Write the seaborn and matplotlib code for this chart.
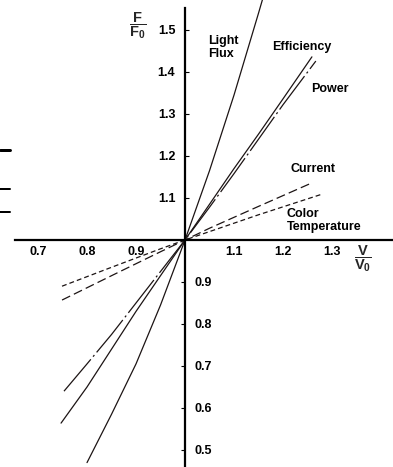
import numpy as np
import pandas as pd
import matplotlib
matplotlib.use('Agg')
import matplotlib.pyplot as plt
import seaborn as sns
from matplotlib.lines import Line2D

# relative voltage V/V0 vs relative quantity F/F0
flux_x = [0.80, 0.85, 0.90, 0.95, 1.00, 1.05, 1.10, 1.15, 1.165]
flux_y = [0.47, 0.585, 0.705, 0.845, 1.00, 1.165, 1.345, 1.54, 1.60]

eff_x = [0.747, 0.80, 0.85, 0.90, 0.95, 1.00, 1.05, 1.10, 1.15, 1.20, 1.259]
eff_y = [0.564, 0.65, 0.74, 0.83, 0.915, 1.00, 1.085, 1.17, 1.252, 1.336, 1.436]

pow_x = [0.753, 0.80, 0.85, 0.90, 0.95, 1.00, 1.05, 1.10, 1.15, 1.20, 1.267]
pow_y = [0.640, 0.705, 0.775, 0.85, 0.925, 1.00, 1.078, 1.158, 1.24, 1.322, 1.426]

cur_x = [0.749, 0.85, 0.95, 1.00, 1.05, 1.15, 1.259]
cur_y = [0.857, 0.915, 0.972, 1.00, 1.028, 1.08, 1.136]

ct_x = [0.749, 0.85, 0.95, 1.00, 1.05, 1.15, 1.282]
ct_y = [0.890, 0.935, 0.979, 1.00, 1.02, 1.06, 1.110]

x_ticks = [0.7, 0.8, 0.9, 1.1, 1.2, 1.3]
y_ticks = [0.5, 0.6, 0.7, 0.8, 0.9, 1.1, 1.2, 1.3, 1.4, 1.5]

sns.set_style('white')
plt.rcParams['font.family'] = ['Liberation Sans', 'DejaVu Sans']
plt.rcParams['font.weight'] = 'bold'
plt.rcParams['mathtext.fontset'] = 'custom'
plt.rcParams['mathtext.rm'] = 'Liberation Sans:bold'
plt.rcParams['mathtext.bf'] = 'Liberation Sans:bold'
plt.rcParams['mathtext.it'] = 'Liberation Sans:bold'
plt.rcParams['mathtext.default'] = 'bf'
plt.rcParams['lines.scale_dashes'] = False

ink = '#1c1414'
fig = plt.figure(figsize=(3.93, 4.67), dpi=100)
ax = fig.add_axes([0, 0, 1, 1])

series = [
    (flux_x, flux_y, '-'),
    (eff_x, eff_y, '-'),
    (pow_x, pow_y, (0, (30, 2.5, 1.5, 2.5))),
    (cur_x, cur_y, (0, (6.5, 3))),
    (ct_x, ct_y, (0, (3.5, 2.2))),
]
for xs, ys, ls in series:
    sns.lineplot(x=xs, y=ys, ax=ax, color=ink, linewidth=0.9,
                 linestyle=ls, clip_on=False)

ax.set_xlim(0.6224, 1.4245)
ax.set_ylim(0.4595, 1.5714)

ax.spines['top'].set_visible(False)
for s in ['left', 'right']:
    ax.spines[s].set_position(('data', 1.0))
ax.spines['right'].set_visible(False)
ax.spines['bottom'].set_position(('data', 1.0))
ax.spines['left'].set_bounds(0.4595, 1.552)
ax.spines['bottom'].set_bounds(0.653, 1.4245)
for s in ['left', 'bottom']:
    ax.spines[s].set_linewidth(1.6)
    ax.spines[s].set_color('black')

ax.set_xticks(x_ticks)
ax.set_xticklabels([f'{v:.1f}' for v in x_ticks])
ax.set_yticks(y_ticks)
ax.set_yticklabels([f'{v:.1f}' for v in y_ticks])
ax.tick_params(axis='x', direction='in', length=3, width=0.8, pad=4,
               labelsize=9, colors='black')
ax.tick_params(axis='y', direction='in', length=3, width=0.8, pad=7,
               labelsize=9, left=True, right=True,
               labelleft=True, labelright=True, colors='black')
for t, v in zip(ax.yaxis.get_major_ticks(), y_ticks):
    upper = v > 1
    t.label1.set_visible(upper)
    t.tick1line.set_visible(upper)
    t.label2.set_visible(not upper)
    t.tick2line.set_visible(not upper)

kw = dict(fontsize=9, fontweight='bold', color='black', linespacing=1.05)
ax.text(1.047, 1.458, 'Light\nFlux', ha='left', va='center', **kw)
ax.text(1.178, 1.46, 'Efficiency', ha='left', va='center', **kw)
ax.text(1.257, 1.36, 'Power', ha='left', va='center', **kw)
ax.text(1.216, 1.169, 'Current', ha='left', va='center', **kw)
ax.text(1.208, 1.046, 'Color\nTemperature', ha='left', va='center', **kw)

ax.text(0.904, 1.51, r'$\dfrac{F}{F_0}$', ha='center', va='center', fontsize=10.5)
ax.text(1.363, 0.955, r'$\dfrac{V}{V_0}$', ha='center', va='center', fontsize=10.5)

# stray bars on the left edge of the scan
for yy, lw in [(150, 3), (189, 2), (212, 2)]:
    yf = 1 - yy / 467
    fig.add_artist(Line2D([0, 10 / 393], [yf, yf], color='black', linewidth=lw * 0.72,
                          transform=fig.transFigure))

fig.savefig('out.png', dpi=100, facecolor='white')
